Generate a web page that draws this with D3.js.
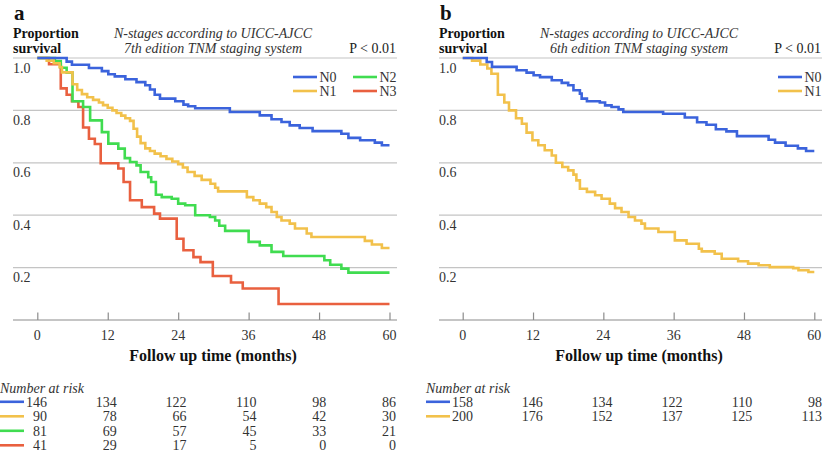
<!DOCTYPE html>
<html><head><meta charset="utf-8">
<script src="https://cdn.jsdelivr.net/npm/d3@7/dist/d3.min.js"></script>
<style>
body{margin:0;background:#fff}
svg{display:block}
</style>
</head><body><svg id="c" width="823" height="452"></svg>
<script>
// ---------- data ----------
const timeTicks = [0, 12, 24, 36, 48, 60];
const survTicks = [0.2, 0.4, 0.6, 0.8, 1.0];
const survTickLabels = ["0.2", "0.4", "0.6", "0.8", "1.0"];
const panelLetters = ["a", "b"];
const titleLine1 = ["N-stages according to UICC-AJCC", "N-stages according to UICC-AJCC"];
const titleLine2 = ["7th edition TNM staging system", "6th edition TNM staging system"];
const pValues = ["P < 0.01", "P < 0.01"];
const yTitle = ["Proportion", "survival"];
const xTitle = "Follow up time (months)";
const riskTitle = "Number at risk";

const seriesA = ["N0", "N1", "N2", "N3"];
const seriesB = ["N0", "N1"];

// Panel a (7th edition)
const a_N0_time = [0, 5.0, 5.9, 8.8, 11.0, 12.1, 13.2, 15.0, 16.9, 18.4, 19.2, 20.0, 20.9, 23.5, 24.9, 25.7, 26.9, 32.8, 37.9, 39.9, 41.6, 43.0, 44.7, 46.9, 51.8, 53.0, 55.0, 57.5, 58.7, 60];
const a_N0_surv = [1.0, 0.986, 0.974, 0.962, 0.95, 0.938, 0.93, 0.919, 0.908, 0.896, 0.88, 0.86, 0.845, 0.835, 0.822, 0.816, 0.808, 0.794, 0.781, 0.766, 0.756, 0.743, 0.733, 0.721, 0.711, 0.695, 0.686, 0.677, 0.667, 0.667];

const a_N1_time = [0, 1.6, 2.8, 3.8, 4.2, 6.0, 6.8, 7.6, 8.5, 9.5, 10.5, 11.2, 12.0, 12.8, 13.5, 14.3, 15.0, 15.8, 16.4, 17.0, 17.6, 18.4, 19.2, 20.0, 21.0, 22.0, 23.0, 24.0, 24.8, 25.6, 26.8, 28.0, 29.5, 30.3, 30.8, 35.7, 36.8, 37.9, 39.0, 39.9, 40.8, 41.6, 43.0, 43.9, 45.9, 46.7, 55.8, 57.0, 58.7, 60];
const a_N1_surv = [1.0, 0.99, 0.98, 0.965, 0.945, 0.90, 0.878, 0.862, 0.85, 0.84, 0.83, 0.82, 0.81, 0.80, 0.79, 0.78, 0.77, 0.76, 0.73, 0.70, 0.675, 0.655, 0.645, 0.635, 0.625, 0.615, 0.605, 0.595, 0.582, 0.565, 0.55, 0.535, 0.52, 0.505, 0.491, 0.469, 0.457, 0.444, 0.431, 0.412, 0.393, 0.38, 0.368, 0.349, 0.33, 0.317, 0.302, 0.288, 0.275, 0.275];

const a_N2_time = [0, 3.0, 4.0, 5.0, 6.0, 7.8, 9.0, 11.0, 12.1, 13.8, 14.9, 15.8, 16.9, 17.6, 18.9, 19.4, 20.2, 21.2, 22.9, 24.0, 25.2, 26.9, 29.4, 30.3, 31.0, 32.0, 36.0, 37.9, 39.9, 41.9, 48.9, 49.9, 51.8, 53.0, 60];
const a_N2_surv = [1.0, 0.988, 0.963, 0.944, 0.835, 0.813, 0.762, 0.717, 0.673, 0.654, 0.618, 0.603, 0.59, 0.565, 0.545, 0.527, 0.478, 0.469, 0.463, 0.444, 0.438, 0.40, 0.393, 0.38, 0.36, 0.34, 0.298, 0.285, 0.26, 0.244, 0.228, 0.211, 0.196, 0.181, 0.181];

const a_N3_time = [0, 2.0, 4.0, 5.0, 5.9, 7.0, 7.8, 8.8, 9.8, 10.8, 13.8, 14.7, 15.8, 17.8, 19.9, 20.9, 23.75, 24.9, 26.6, 27.8, 29.9, 33.0, 35.0, 41.1, 60];
const a_N3_surv = [1.0, 0.976, 0.884, 0.86, 0.835, 0.813, 0.735, 0.692, 0.672, 0.598, 0.578, 0.527, 0.457, 0.431, 0.406, 0.387, 0.31, 0.266, 0.24, 0.221, 0.168, 0.143, 0.12, 0.061, 0.061];

// Panel b (6th edition)
const b_N0_time = [0, 4.1, 5.0, 9.2, 10.9, 12.1, 13.2, 15.2, 16.9, 18.0, 18.9, 20.0, 20.3, 21.2, 23.4, 24.3, 25.4, 26.6, 27.4, 34.2, 37.9, 40.0, 41.6, 43.2, 45.0, 46.8, 52.2, 53.3, 55.1, 57.2, 58.6, 60];
const b_N0_surv = [1.0, 0.985, 0.966, 0.953, 0.944, 0.934, 0.927, 0.915, 0.905, 0.896, 0.877, 0.864, 0.845, 0.835, 0.83, 0.819, 0.813, 0.804, 0.794, 0.787, 0.773, 0.755, 0.745, 0.728, 0.72, 0.702, 0.688, 0.677, 0.665, 0.655, 0.645, 0.645];

const b_N1_time = [0, 1.6, 3.0, 4.2, 4.9, 6.0, 7.1, 7.9, 9.1, 10.1, 10.9, 11.9, 12.9, 14.0, 15.2, 15.9, 17.0, 18.0, 18.9, 19.4, 20.0, 21.2, 22.6, 23.7, 25.1, 26.0, 27.1, 28.3, 29.4, 30.5, 31.1, 33.4, 36.2, 38.2, 40.3, 40.8, 43.0, 44.2, 47.0, 48.7, 50.5, 52.4, 56.4, 57.3, 59.0, 60];
const b_N1_surv = [1.0, 0.99, 0.975, 0.96, 0.94, 0.86, 0.83, 0.80, 0.77, 0.749, 0.715, 0.686, 0.667, 0.648, 0.628, 0.600, 0.584, 0.571, 0.555, 0.533, 0.501, 0.489, 0.476, 0.463, 0.444, 0.427, 0.412, 0.393, 0.38, 0.368, 0.349, 0.336, 0.304, 0.291, 0.272, 0.262, 0.253, 0.234, 0.224, 0.215, 0.209, 0.202, 0.198, 0.19, 0.183, 0.183];

// Numbers at risk
const riskA_N0 = [146, 134, 122, 110, 98, 86];
const riskA_N1 = [90, 78, 66, 54, 42, 30];
const riskA_N2 = [81, 69, 57, 45, 33, 21];
const riskA_N3 = [41, 29, 17, 5, 0, 0];
const riskB_N0 = [158, 146, 134, 122, 110, 98];
const riskB_N1 = [200, 176, 152, 137, 125, 113];

// ---------- styles ----------
const COLORS = {N0: "#3b63dc", N1: "#f2c14b", N2: "#40dc50", N3: "#e9603f"};
const FONT = "'Liberation Serif', 'DejaVu Serif', 'Noto Serif', 'Nimbus Roman', 'Nimbus Roman No9 L', FreeSerif, Tinos, Times, 'Times New Roman', Georgia, serif";

const panels = [
  {
    letter: panelLetters[0], t1: titleLine1[0], t2: titleLine2[0], p: pValues[0],
    left: 13, right: 397, x0: 37.3, x1: 389.5, riskX0: 47, riskX1: 396, titleX: 213,
    series: [
      {name: seriesA[0], t: a_N0_time, s: a_N0_surv, risk: riskA_N0},
      {name: seriesA[1], t: a_N1_time, s: a_N1_surv, risk: riskA_N1},
      {name: seriesA[2], t: a_N2_time, s: a_N2_surv, risk: riskA_N2},
      {name: seriesA[3], t: a_N3_time, s: a_N3_surv, risk: riskA_N3}
    ],
    legend: [{name: "N0", x: 293, y: 77}, {name: "N1", x: 293, y: 91}, {name: "N2", x: 353, y: 77}, {name: "N3", x: 353, y: 91}],
    riskLeft: 0
  },
  {
    letter: panelLetters[1], t1: titleLine1[1], t2: titleLine2[1], p: pValues[1],
    left: 439, right: 822, x0: 462.7, x1: 814.3, riskX0: 473, riskX1: 822, titleX: 639,
    series: [
      {name: seriesB[0], t: b_N0_time, s: b_N0_surv, risk: riskB_N0},
      {name: seriesB[1], t: b_N1_time, s: b_N1_surv, risk: riskB_N1}
    ],
    legend: [{name: "N0", x: 778, y: 77}, {name: "N1", x: 778, y: 91}],
    riskLeft: 426
  }
];

const svg = d3.select("#c");
const y = d3.scaleLinear().domain([0, 1]).range([320, 58]);

function txt(g, xx, yy, size, str, opts = {}) {
  const t = g.append("text").attr("x", xx).attr("y", yy)
    .style("font-family", FONT).style("font-size", size + "px")
    .style("fill", opts.fill || "#1a1a1a").text(str);
  if (opts.bold) t.style("font-weight", "bold");
  if (opts.italic) t.style("font-style", "italic");
  if (opts.anchor) t.attr("text-anchor", opts.anchor);
  return t;
}

panels.forEach(P => {
  const g = svg.append("g");
  const x = d3.scaleLinear().domain([0, 60]).range([P.x0, P.x1]);
  const xr = d3.scaleLinear().domain([0, 60]).range([P.riskX0, P.riskX1]);

  txt(g, P.left + 1, 20, 21, P.letter, {bold: true, fill: "#111"});
  txt(g, P.left, 38, 14, yTitle[0], {bold: true, fill: "#111"});
  txt(g, P.left, 52.5, 14, yTitle[1], {bold: true, fill: "#111"});
  txt(g, P.titleX, 38, 14, P.t1, {italic: true, anchor: "middle", fill: "#333"});
  txt(g, P.titleX, 52.5, 14, P.t2, {italic: true, anchor: "middle", fill: "#333"});
  txt(g, P.right - 1, 52.5, 14, P.p, {anchor: "end", fill: "#222"});

  // gridlines + y labels
  g.selectAll(null).data(survTicks).enter().append("line")
    .attr("x1", P.left).attr("x2", P.right)
    .attr("y1", d => y(d)).attr("y2", d => y(d))
    .attr("stroke", "#c4c4c4").attr("stroke-width", 1.2);
  survTicks.forEach((d, i) => txt(g, P.left, y(d) + 14.5, 14, survTickLabels[i], {fill: "#333"}));

  // x axis
  g.append("line").attr("x1", P.left).attr("x2", P.right).attr("y1", 320).attr("y2", 320)
    .attr("stroke", "#8c8c8c").attr("stroke-width", 1.2);
  const axis = d3.axisTop(x).tickValues(timeTicks).tickSize(7.5).tickFormat("");
  const ax = g.append("g").attr("transform", "translate(0,320)").call(axis);
  ax.select(".domain").remove();
  ax.selectAll(".tick line").attr("stroke", "#8c8c8c").attr("stroke-width", 1.2);
  timeTicks.forEach(d => txt(g, x(d), 339.5, 14, String(d), {anchor: "middle", fill: "#333"}));
  txt(g, P.titleX, 361, 16, xTitle, {bold: true, anchor: "middle", fill: "#111"});

  // curves
  const line = d3.line().x(d => x(d[0])).y(d => y(d[1])).curve(d3.curveStepAfter);
  P.series.slice().reverse().forEach(S => {
    const pts = S.t.map((t, i) => [t, S.s[i]]);
    g.append("path").attr("d", line(pts)).attr("fill", "none")
      .attr("stroke", COLORS[S.name]).attr("stroke-width", 2.6);
  });

  // legend
  P.legend.forEach(L => {
    g.append("line").attr("x1", L.x).attr("x2", L.x + 24).attr("y1", L.y).attr("y2", L.y)
      .attr("stroke", COLORS[L.name]).attr("stroke-width", 2.6);
    txt(g, L.x + 26.5, L.y + 5, 14, L.name, {fill: "#333"});
  });

  // number at risk
  txt(g, P.riskLeft, 392.5, 14, riskTitle, {italic: true, fill: "#333"});
  P.series.forEach((S, r) => {
    const by = 406.5 + r * 14.5;
    g.append("line").attr("x1", P.riskLeft).attr("x2", P.riskLeft + 24).attr("y1", by - 4.7).attr("y2", by - 4.7)
      .attr("stroke", COLORS[S.name]).attr("stroke-width", 2.6);
    S.risk.forEach((d, i) => txt(g, xr(timeTicks[i]), by, 14, String(d), {anchor: "end", fill: "#333"}));
  });
});
</script>
</body></html>
